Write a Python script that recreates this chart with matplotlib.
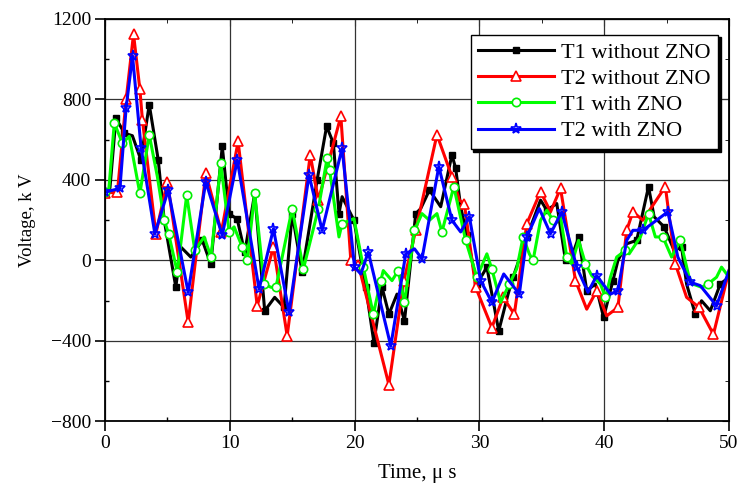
import matplotlib
matplotlib.use("Agg")
import matplotlib.pyplot as plt
from matplotlib.ticker import MultipleLocator

plt.rcParams['font.family'] = ['Liberation Serif', 'DejaVu Serif']

# ---- data (time in microseconds, voltage in kV) ----
t_black = [0, 0.4, 0.88, 1.55, 2.2, 2.88, 3.55, 4.27, 4.75, 5.68, 6.08, 6.88, 7.8, 8.48, 9.4,
           9.95, 10.6, 11.2, 12.0, 12.8, 13.6, 14.35, 15.0, 15.8, 17.0, 17.76, 18.3, 18.75, 19.0,
           19.95, 20.9, 21.55, 22.2, 22.75, 23.4, 24.0, 24.9, 25.3, 26.0, 26.9, 27.8, 28.1, 28.5,
           29.0, 29.8, 30.6, 31.55, 32.3, 32.7, 33.8, 34.9, 35.4, 36.2, 36.9, 37.4, 37.95, 38.6,
           39.3, 39.95, 40.7, 41.1, 41.8, 42.6, 43.55, 44.0, 44.8, 45.6, 46.2, 46.6, 47.3, 47.8,
           48.5, 49.3, 50.0]
v_black = [340, 360, 708, 633, 620, 500, 775, 500, 200, -133, 67, 17, 100, -17, 567,
           233, 205, 40, 333, -250, -183, -233, 233, -58, 400, 667, 583, 233, 317,
           200, -133, -408, -133, -267, -167, -300, 233, 258, 350, 267, 525, 458, 267,
           125, -117, -33, -350, -167, -83, 117, 300, 250, 283, 0, 17, 117, -150,
           -117, -283, -100, 0, 83, 100, 367, 217, 167, 50, 67, -117, -267, -200,
           -250, -117, -83]

t_red = [0, 1.0, 1.7, 2.29, 2.8, 3.0, 4.08, 5.0, 6.67, 8.08, 9.33, 10.67, 12.2, 13.5, 14.6,
         16.45, 17.1, 18.9, 19.7, 20.3, 22.75, 23.95, 24.9, 26.6, 27.8, 28.4, 28.8, 29.7, 31.0,
         31.9, 32.8, 33.8, 34.9, 35.7, 36.5, 37.7, 38.6, 39.4, 40.2, 41.1, 41.8, 42.3, 43.1,
         44.9, 45.7, 46.6, 47.6, 48.75, 50.0]
v_red = [335, 340, 800, 1125, 850, 700, 133, 392, -308, 433, 142, 592, -225, 67, -375,
         525, 300, 717, 0, -20, -617, -100, 150, 625, 417, 300, 280, -133, -333,
         -183, -267, 183, 342, 242, 358, -100, -242, -150, -275, -233, 150, 242, 200,
         367, -17, -183, -233, -367, -50]

t_green = [0, 0.3, 0.75, 1.4, 1.95, 2.8, 3.55, 4.2, 4.75, 5.1, 5.8, 6.55, 7.2, 7.95, 8.5,
           9.28, 9.95, 10.35, 11.0, 11.4, 12.0, 12.75, 13.3, 13.7, 15.0, 15.9, 17.1, 17.8,
           18.0, 18.75, 19.0, 19.95, 20.7, 21.5, 22.1, 22.3, 23.0, 23.5, 24.0, 24.8, 25.4,
           26.0, 26.6, 27.0, 27.95, 28.9, 29.8, 30.6, 31.0, 31.7, 32.4, 33.0, 33.5, 34.0,
           34.3, 34.9, 35.4, 35.9, 36.5, 37.0, 37.4, 37.95, 38.5, 39.0, 39.7, 40.1, 40.5,
           41.0, 41.7, 42.0, 42.9, 43.55, 44.1, 44.7, 45.4, 46.1, 46.8, 47.1, 47.8, 48.3,
           49.0, 49.4, 50.0]
v_green = [340, 345, 683, 583, 617, 333, 625, 417, 200, 133, -58, 325, 50, 117, 17,
           483, 142, 167, 67, 0, 333, -117, -133, -133, 258, -42, 258, 508,
           450, 117, 183, 208, -33, -267, -100, -50, -100, -50, -208, 150, 233,
           200, 233, 142, 367, 100, -83, 33, -42, -208, -117, -40, 117, 33,
           0, 200, 250, 200, 217, 17, -17, 100, -17, -75, -117, -183, -83,
           17, 50, 33, 117, 233, 117, 117, 17, 100, -83, -117, -133, -117,
           -83, -33, -83]

t_blue = [0, 1.2, 1.7, 2.21, 2.9, 4.0, 5.07, 6.67, 8.08, 9.4, 10.6, 12.35, 13.5, 14.75, 16.35,
          17.4, 19.0, 20.0, 20.5, 21.1, 22.9, 24.1, 24.8, 25.4, 26.75, 27.8, 28.5, 29.2,
          30.1, 31.0, 31.95, 33.2, 33.8, 34.8, 35.7, 36.6, 37.8, 38.7, 39.4, 40.5, 41.1,
          41.8, 42.3, 43.1, 44.2, 45.1, 45.9, 46.9, 47.7, 49.0, 50.0]
v_blue = [340, 358, 760, 1017, 558, 133, 350, -158, 392, 125, 500, -142, 158, -258, 425,
          150, 558, -33, -67, 42, -425, 33, 58, 8, 467, 200, 142, 217,
          -100, -208, -67, -167, 117, 258, 133, 242, -33, -158, -75, -167, -150,
          100, 150, 150, 200, 242, 17, -108, -125, -225, -50]

labels = ["T1 without ZNO", "T2 without ZNO", "T1 with ZNO", "T2 with ZNO"]
x_ticks = [0, 10, 20, 30, 40, 50]
y_ticks = [-800, -400, 0, 400, 800, 1200]

fig = plt.figure(figsize=(7.39, 4.87), dpi=100)
ax = fig.add_axes([0.142, 0.1345, 0.8445, 0.8265])

ax.grid(True, which='major', color='#333333', lw=0.9)
ax.set_axisbelow(True)

me = 0.065
ax.plot(t_black, v_black, color='black', lw=2.2, marker='s', ms=5, mfc='black', mec='black',
        markevery=me, label=labels[0])
ax.plot(t_red, v_red, color='#ff0000', lw=2.2, marker='^', ms=6.5, mfc='white', mec='#ff0000',
        mew=1.2, markevery=me, label=labels[1])
ax.plot(t_green, v_green, color='#00ff00', lw=2.2, marker='o', ms=6, mfc='white', mec='#00ee00',
        mew=1.2, markevery=me, label=labels[2])
ax.plot(t_blue, v_blue, color='#0000ff', lw=2.2, marker='*', ms=8, mfc='none', mec='#0000ff',
        mew=1.2, markevery=me, label=labels[3])

ax.set_xlim(0, 50)
ax.set_ylim(-800, 1200)
ax.set_xticks(x_ticks)
ax.set_yticks(y_ticks)
ax.xaxis.set_minor_locator(MultipleLocator(5))
ax.yaxis.set_minor_locator(MultipleLocator(200))
ax.tick_params(which='major', direction='out', length=7, width=1.2, labelsize=14, pad=3)
ax.tick_params(which='minor', direction='in', length=3, width=1)
for s in ax.spines.values():
    s.set_linewidth(1.3)

secx = ax.secondary_xaxis('top')
secx.set_xticks(x_ticks)
secx.xaxis.set_minor_locator(MultipleLocator(5))
secx.tick_params(which='both', direction='in', labeltop=False)
secx.tick_params(which='major', length=5)
secx.tick_params(which='minor', length=3)
secy = ax.secondary_yaxis('right')
secy.set_yticks(y_ticks)
secy.yaxis.set_minor_locator(MultipleLocator(200))
secy.tick_params(which='both', direction='in', labelright=False)
secy.tick_params(which='major', length=5)
secy.tick_params(which='minor', length=3)

ax.set_xlabel("Time, μ s", fontsize=15)
ax.set_ylabel("Voltage, k V", fontsize=13.5)
ax.xaxis.set_label_coords(0.5, -0.105)
ax.yaxis.set_label_coords(-0.11, 0.5)

leg = ax.legend(loc='upper right', bbox_to_anchor=(0.982, 0.961), fontsize=16,
                frameon=True, fancybox=False, shadow={'color': 'black', 'alpha': 1},
                edgecolor='black', framealpha=1, handlelength=3.4, labelspacing=0.25,
                borderpad=0.35, handletextpad=0.3, borderaxespad=0)
leg.get_frame().set_linewidth(1.0)

fig.savefig("out.png", dpi=100)
